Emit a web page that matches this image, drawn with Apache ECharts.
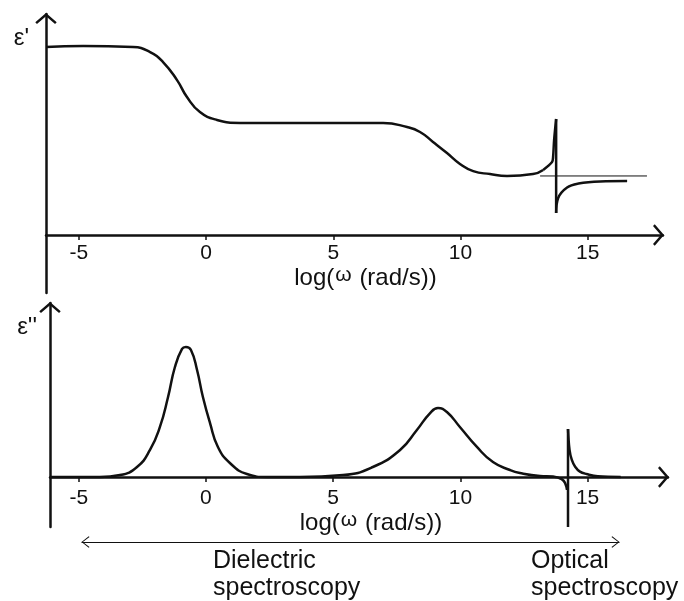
<!DOCTYPE html>
<html>
<head>
<meta charset="utf-8">
<script src="https://cdn.jsdelivr.net/npm/echarts@6/dist/echarts.min.js"></script>
<style>
  html, body { margin: 0; padding: 0; background: #fff; }
  #chart { width: 684px; height: 601px; }
</style>
</head>
<body>
<div id="chart"></div>
<script>
// x values are log10(ω / rad s⁻¹)

// ε' : two dielectric relaxation steps
const relaxLogW = [-6.29, -4.83, -2.87, -2.20, -1.69, -1.14, -0.75, -0.24, 0.43, 1.34,
                   3.69, 6.96, 7.90, 8.41, 8.92, 9.47, 9.98, 10.50, 11.16, 11.83, 12.85, 13.25];
const relaxEpsReal = [10.0, 10.05, 10.0, 9.73, 9.20, 8.24, 7.34, 6.54, 6.12, 5.96,
                      5.96, 5.96, 5.74, 5.48, 4.95, 4.36, 3.78, 3.40, 3.24, 3.14, 3.24, 3.46];

// ε' : optical resonance (rise, jump, recovery)
const resRiseLogW = [13.25, 13.60, 13.64, 13.68, 13.76];
const resRiseEpsReal = [3.46, 3.88, 4.15, 5.05, 6.17];
const resJumpLogW = [13.76, 13.76];
const resJumpEpsReal = [6.17, 1.17];
const resTailLogW = [13.76, 13.84, 14.19, 14.64, 15.49, 16.55];
const resTailEpsReal = [1.17, 1.97, 2.53, 2.74, 2.85, 2.87];

// ε∞ reference level
const epsInfLogW = [13.13, 17.33];
const epsInfVal = [3.14, 3.14];

// ε'' : two loss peaks
const lossLogW = [-6.13, -4.17, -3.38, -2.71, -2.20, -1.81, -1.49, -1.22, -0.94, -0.79,
                  -0.59, -0.35, -0.12, 0.16, 0.47, 0.94, 1.61, 2.40, 3.69, 5.39,
                  6.56, 7.63, 8.29, 8.81, 9.12, 9.47, 9.98, 10.65, 11.28, 11.95,
                  12.34, 13.13, 13.64, 13.99, 14.12, 14.19];
const lossEpsImag = [0, 0, 0.15, 0.77, 2.08, 3.85, 6.15, 8.46, 9.85, 10.0,
                     9.77, 8.23, 6.15, 4.15, 2.31, 1.08, 0.23, 0, 0, 0.15,
                     0.77, 2.08, 3.62, 4.92, 5.31, 5.0, 3.85, 2.31, 1.15, 0.54,
                     0.31, 0.08, 0.04, -0.18, -0.49, -1.0];

// ε'' : optical resonance
const optJumpLogW = [14.23, 14.23];
const optJumpEpsImag = [-3.85, 3.69];
const optTailLogW = [14.23, 14.29, 14.38, 14.51, 14.70, 14.96, 15.40, 16.30];
const optTailEpsImag = [3.69, 2.08, 1.31, 0.79, 0.41, 0.23, 0.05, 0];

// frequency axis ticks
const tickValues = [-5, 0, 5, 10, 15];

// span of the spectroscopy arrow
const spanLogW = [-4.87, 16.24];

const pair = (xs, ys) => xs.map((x, i) => [x, ys[i]]);

const INK = '#111';
const FONT = '"Liberation Sans", Arial, sans-serif';

// open chevron heads for the axes (pointing up in symbol space)
const CHEVRON = 'path://M11,0 L22,9.5 L20.3,11.3 L11,3.3 L1.7,11.3 L0,9.5 Z';
const THIN_CHEVRON = 'path://M6,0 L12,7.5 L11.2,8.3 L6,1.4 L0.8,8.3 L0,7.5 Z';

// the frequency axis sits at ε = 0, above the bottom edge of its grid,
// so labels and name are pulled up by the depth of the grid below zero
function freqAxis(gridIndex, min, max, labelMargin, nameGap, namePad) {
  return {
    type: 'value', gridIndex, min, max,
    axisLine: {
      onZero: true,
      symbol: ['none', CHEVRON], symbolSize: [22, 11], symbolOffset: [0, -4.5],
      lineStyle: { color: INK, width: 2.5 }
    },
    axisTick: { show: true, customValues: tickValues, length: 5, lineStyle: { color: INK, width: 1.5 } },
    axisLabel: { customValues: tickValues, margin: labelMargin, color: INK, fontSize: 21, fontFamily: FONT },
    splitLine: { show: false },
    name: '{a|log(}{w|ω}{a| (rad/s))}',
    nameLocation: 'middle',
    nameGap,
    nameTextStyle: {
      padding: [0, 0, 0, namePad],
      rich: {
        a: { fontSize: 24, fontFamily: FONT, color: INK, lineHeight: 26 },
        w: { fontSize: 21, fontFamily: FONT, color: INK, lineHeight: 20, verticalAlign: 'top', padding: [0, 1, 0, 1] }
      }
    }
  };
}

function valueAxis(gridIndex, min, max, name, namePadRight) {
  return {
    type: 'value', gridIndex, min, max,
    axisLine: {
      show: true, onZero: false,
      symbol: ['none', CHEVRON], symbolSize: [22, 11], symbolOffset: [0, -4.5],
      lineStyle: { color: INK, width: 2.5 }
    },
    axisTick: { show: false },
    axisLabel: { show: false },
    splitLine: { show: false },
    name,
    nameLocation: 'end',
    nameGap: -24,
    nameTextStyle: {
      align: 'right', verticalAlign: 'middle',
      fontSize: 24, fontFamily: FONT, color: INK,
      padding: [0, namePadRight, 0, 0]
    }
  };
}

const curve = (xAxisIndex, data, extra) => Object.assign({
  type: 'line', xAxisIndex, yAxisIndex: xAxisIndex, data,
  showSymbol: false, symbol: 'none',
  lineStyle: { color: INK, width: 2.5 },
  smooth: 0.5,
  silent: true
}, extra || {});

const chart = echarts.init(document.getElementById('chart'), null, { renderer: 'canvas' });

chart.setOption({
  animation: false,
  backgroundColor: '#fff',
  grid: [
    { left: 46, top: 14, width: 617, height: 279, outerBoundsMode: 'none', containLabel: false },
    { left: 50, top: 303, width: 618, height: 224, outerBoundsMode: 'none', containLabel: false },
    { left: 82, top: 541, width: 537, height: 1, outerBoundsMode: 'none', containLabel: false }
  ],
  xAxis: [
    freqAxis(0, -6.29, 17.96, -50, -29, 22),
    freqAxis(1, -6.13, 18.16, -39, -20, 24),
    {
      type: 'value', gridIndex: 2, min: spanLogW[0], max: spanLogW[1],
      axisLine: {
        onZero: false,
        symbol: [THIN_CHEVRON, THIN_CHEVRON], symbolSize: [12, 8], symbolOffset: [3.5, -3.5],
        lineStyle: { color: INK, width: 1.2 }
      },
      axisTick: { show: false }, axisLabel: { show: false }, splitLine: { show: false }
    }
  ],
  yAxis: [
    valueAxis(0, -3.085, 11.755, "ε'", 17),
    valueAxis(1, -3.846, 13.385, "ε''", 13),
    { type: 'value', gridIndex: 2, show: false, min: 0, max: 1 }
  ],
  series: [
    curve(0, pair(relaxLogW, relaxEpsReal)),
    curve(0, pair(resRiseLogW, resRiseEpsReal), { smooth: 0.3 }),
    curve(0, pair(resJumpLogW, resJumpEpsReal), { smooth: false }),
    curve(0, pair(resTailLogW, resTailEpsReal), { smooth: 0.4 }),
    curve(0, pair(epsInfLogW, epsInfVal), { smooth: false, lineStyle: { color: INK, width: 1 } }),
    curve(1, pair(lossLogW, lossEpsImag)),
    curve(1, pair(optJumpLogW, optJumpEpsImag), { smooth: false }),
    curve(1, pair(optTailLogW, optTailEpsImag), { smooth: 0.4 })
  ],
  graphic: [
    {
      type: 'text', left: 213, top: 548, silent: true,
      style: { text: 'Dielectric\nspectroscopy', fontSize: 25, lineHeight: 27, fontFamily: FONT, fill: INK }
    },
    {
      type: 'text', left: 531, top: 548, silent: true,
      style: { text: 'Optical\nspectroscopy', fontSize: 25, lineHeight: 27, fontFamily: FONT, fill: INK }
    }
  ]
});
</script>
</body>
</html>
